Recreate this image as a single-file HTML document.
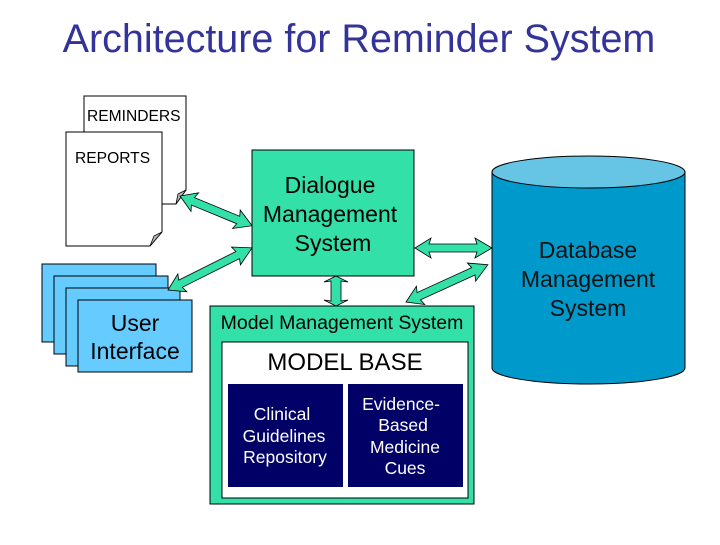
<!DOCTYPE html>
<html><head><style>
body{margin:0;width:720px;height:540px;background:#fff;overflow:hidden;font-family:"Liberation Sans",sans-serif;}
</style></head><body>
<svg width="720" height="540" xmlns="http://www.w3.org/2000/svg" font-family="Liberation Sans, sans-serif">
<text x="359" y="52" font-size="39.5" fill="#333399" text-anchor="middle">Architecture for Reminder System</text>
<!-- documents -->
<path d="M84,96 H186 V190 L176,204 H84 Z" fill="#fff" stroke="#000" stroke-width="1"/>
<path d="M176,204 L186,190 L178,194 Z" fill="#bbb" stroke="#000" stroke-width="0.8"/>
<text x="87" y="121" font-size="15.6">REMINDERS</text>
<path d="M66,132 H162 V232 L150,246 H66 Z" fill="#fff" stroke="#000" stroke-width="1"/>
<path d="M150,246 L162,232 L154,236 Z" fill="#bbb" stroke="#000" stroke-width="0.8"/>
<text x="75" y="163" font-size="15.6">REPORTS</text>
<!-- UI stack -->
<rect x="42" y="264" width="114" height="78" fill="#66ccff" stroke="#000"/>
<rect x="54" y="276" width="114" height="78" fill="#66ccff" stroke="#000"/>
<rect x="66" y="288" width="114" height="78" fill="#66ccff" stroke="#000"/>
<rect x="78" y="300" width="114" height="72" fill="#66ccff" stroke="#000"/>
<text x="135" y="331" font-size="23" text-anchor="middle">User</text>
<text x="135" y="359" font-size="23" text-anchor="middle">Interface</text>
<!-- Dialogue -->
<rect x="252" y="150" width="162" height="126" fill="#33e0a8" stroke="#000"/>
<text x="330" y="193" font-size="23" text-anchor="middle">Dialogue</text>
<text x="330" y="222" font-size="23" text-anchor="middle">Management</text>
<text x="333" y="251" font-size="23" text-anchor="middle">System</text>
<!-- Model management -->
<rect x="210" y="306" width="264" height="198" fill="#33e0a8" stroke="#000"/>
<text x="342" y="329" font-size="19.5" text-anchor="middle">Model Management System</text>
<rect x="222" y="342" width="246" height="156" fill="#fff" stroke="#000"/>
<text x="345" y="370" font-size="24" text-anchor="middle">MODEL BASE</text>
<rect x="228" y="384" width="115" height="103" fill="#000066"/>
<rect x="348" y="384" width="115" height="103" fill="#000066"/>
<g fill="#fff" font-size="17.5" text-anchor="middle">
<text x="282" y="420">Clinical</text><text x="284" y="442">Guidelines</text><text x="285" y="463">Repository</text>
<text x="401" y="410">Evidence-</text><text x="403" y="431">Based</text><text x="405" y="453">Medicine</text><text x="405" y="474">Cues</text>
</g>
<!-- cylinder -->
<path d="M492,172 V368 A96.5,16 0 0 0 685,368 V172 Z" fill="#0099cc" stroke="#000"/>
<ellipse cx="588.5" cy="172" rx="96.5" ry="16" fill="#66c4e4" stroke="#000"/>
<text x="588" y="258" font-size="23" text-anchor="middle" fill="#111">Database</text>
<text x="588" y="287" font-size="23" text-anchor="middle" fill="#111">Management</text>
<text x="588" y="316" font-size="23" text-anchor="middle" fill="#111">System</text>
<!-- arrows -->
<g fill="#33e0a8" stroke="#000" stroke-width="0.8">
<path transform="translate(180,196) rotate(22.4)" d="M0,0 L16,-10 L14,-4 L63,-4 L61,-10 L78,0 L61,10 L63,4 L14,4 L16,10 Z"/>
<path transform="translate(168,290) rotate(-26.6)" d="M0,0 L16,-10 L14,-4 L78,-4 L76,-10 L94,0 L76,10 L78,4 L14,4 L16,10 Z"/>
<path transform="translate(415,248)" d="M0,0 L16,-10 L14,-4 L62,-4 L60,-10 L77,0 L60,10 L62,4 L14,4 L16,10 Z"/>
<path transform="translate(336,276) rotate(90)" d="M0,0 L6,-12 L5,-5 L25,-5 L24,-12 L30,0 L24,12 L25,5 L5,5 L6,12 Z"/>
<path transform="translate(406,302) rotate(-24.5)" d="M0,0 L16,-10 L14,-4 L74,-4 L72,-10 L90,0 L72,10 L74,4 L14,4 L16,10 Z"/>
</g>
</svg>
</body></html>
